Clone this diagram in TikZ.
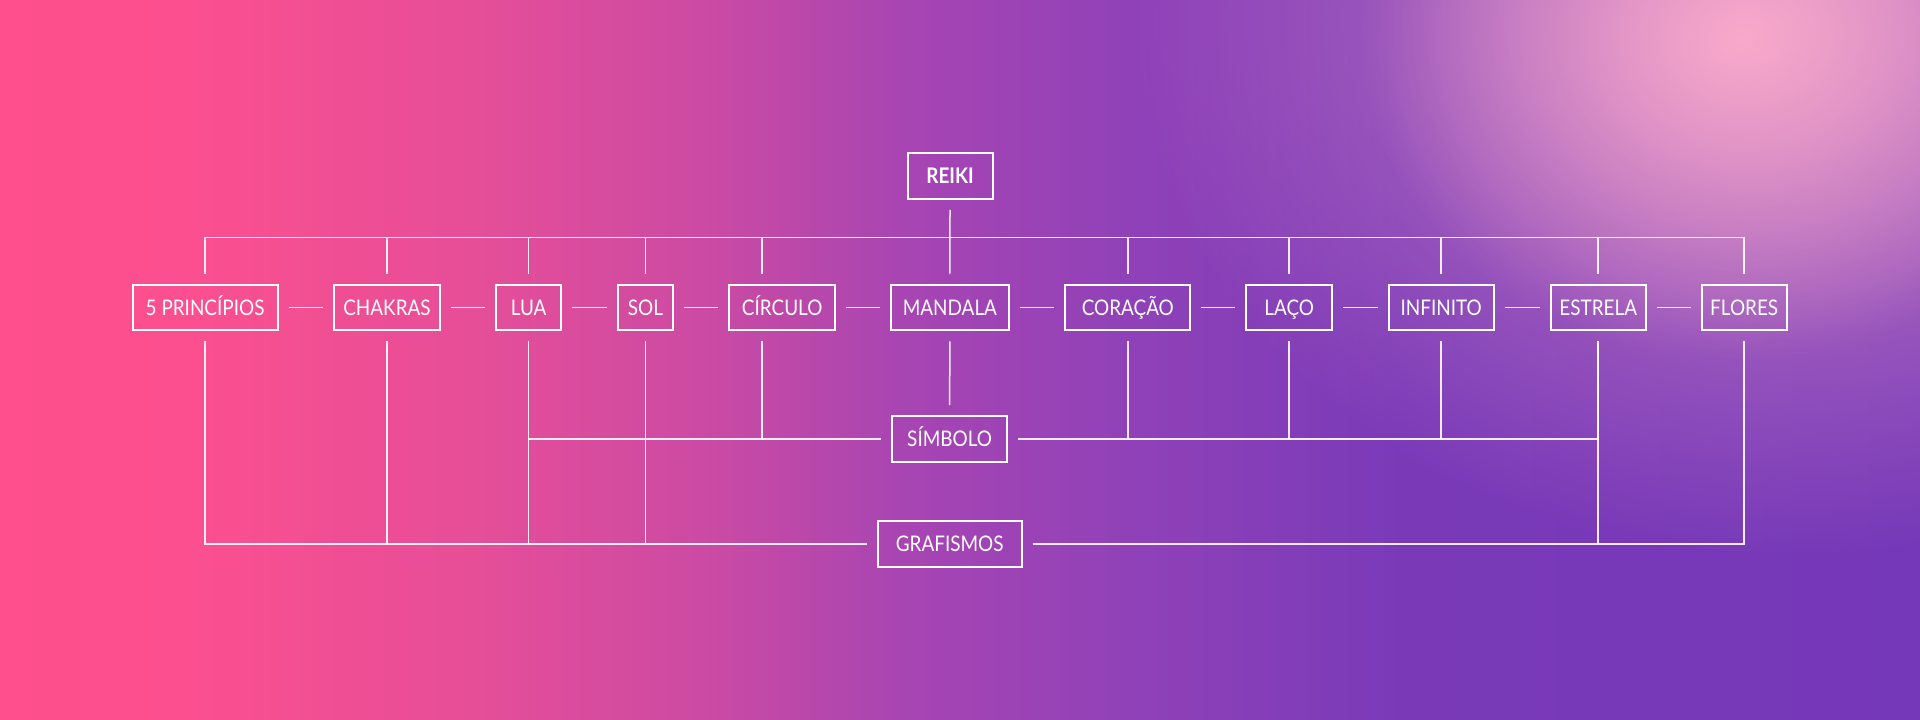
\documentclass[tikz,border=0pt]{standalone}
\usepackage{fontspec}
\setmainfont{Lato}[FakeStretch=0.88]
\usetikzlibrary{fadings}
\definecolor{bgA}{HTML}{FF4F8C}
\definecolor{bgB}{HTML}{FC4F8F}
\definecolor{bgC}{HTML}{E54E98}
\definecolor{bgD}{HTML}{C94AA4}
\definecolor{bgE}{HTML}{A845B3}
\definecolor{bgF}{HTML}{8E41B8}
\definecolor{bgG}{HTML}{7A3AB8}
\definecolor{bgH}{HTML}{7538B8}
\definecolor{glowc}{HTML}{FFAECB}
\tikzfading[name=glowfade, inner color=transparent!0, outer color=transparent!100]
\begin{document}
\begin{tikzpicture}[x=1pt,y=-1pt,
  box/.style={draw=white, line width=2pt, text=white, minimum height=45.6pt,
    inner sep=0pt, text height=15.4pt, text depth=0pt,
    font=\fontsize{21.5}{24}\selectfont},
  link/.style={draw=white, draw opacity=0.9, line width=1.5pt}]
\useasboundingbox (0,0) rectangle (1920,720);
\begin{scope}
\clip (0,0) rectangle (1920,720);
\shade[left color=bgA, right color=bgB] (0,0) rectangle (181,720);
\shade[left color=bgB, right color=bgC] (180,0) rectangle (481,720);
\shade[left color=bgC, right color=bgD] (480,0) rectangle (721,720);
\shade[left color=bgD, right color=bgE] (720,0) rectangle (901,720);
\shade[left color=bgE, right color=bgF] (900,0) rectangle (1151,720);
\shade[left color=bgF, right color=bgG] (1150,0) rectangle (1401,720);
\shade[left color=bgG, right color=bgH] (1400,0) rectangle (1920,720);
\fill[glowc, fill opacity=0.6, path fading=glowfade] (1790,20) ellipse [x radius=660pt, y radius=540pt];
\fill[glowc, fill opacity=0.9, path fading=glowfade] (1740,40) ellipse [x radius=380pt, y radius=320pt];
\end{scope}

% nodes
\node[box, minimum width=85pt, font=\fontsize{21.5}{24}\selectfont\bfseries] (reiki) at (950,176) {REIKI};
\node[box, minimum width=145.2pt] (p5) at (205.1,307.5) {5 PRINCÍPIOS};
\node[box, minimum width=105.4pt] (chakras) at (387,307.5) {CHAKRAS};
\node[box, minimum width=65.5pt] (lua) at (528.7,307.5) {LUA};
\node[box, minimum width=55.2pt] (sol) at (645.4,307.5) {SOL};
\node[box, minimum width=105.5pt] (circulo) at (782.2,307.5) {CÍRCULO};
\node[box, minimum width=117.3pt] (mandala) at (949.9,307.5) {MANDALA};
\node[box, minimum width=125pt] (coracao) at (1127.8,307.5) {CORAÇÃO};
\node[box, minimum width=85.5pt] (laco) at (1289.2,307.5) {LAÇO};
\node[box, minimum width=105.3pt] (infinito) at (1441.2,307.5) {INFINITO};
\node[box, minimum width=95.1pt] (estrela) at (1598.2,307.5) {ESTRELA};
\node[box, minimum width=84.8pt] (flores) at (1744.2,307.5) {FLORES};
\node[box, minimum width=115.2pt] (simbolo) at (949.6,439) {SÍMBOLO};
\node[box, minimum width=144pt] (grafismos) at (949.7,543.8) {GRAFISMOS};
\coordinate (bar) at (950,237.7);

% top tree
\draw[link] ([yshift=-10pt]reiki.south) -- ([yshift=10pt]mandala.north);
\draw[link] ([yshift=10pt]p5.north) |- (bar) -| ([yshift=10pt]flores.north);
\foreach \n in {chakras,lua,sol,coracao,laco,infinito,estrela}
  \draw[link] ([yshift=10pt]\n.north) -- (\n.north |- bar);
\draw[link] ([xshift=-20.2pt,yshift=10pt]circulo.north) -- ([xshift=-20.2pt]circulo.north |- bar);

% row dashes
\foreach \a/\b in {p5/chakras,chakras/lua,lua/sol,sol/circulo,circulo/mandala,mandala/coracao,coracao/laco,laco/infinito,infinito/estrela,estrela/flores}
  \draw[link] ([xshift=10pt]\a.east) -- ([xshift=-10pt]\b.west);

% simbolo
\draw[link] (lua.south |- simbolo) -- ([xshift=-10pt]simbolo.west);
\draw[link] ([xshift=10pt]simbolo.east) -| ([yshift=-10pt]estrela.south);
\draw[link] ([yshift=-10pt]mandala.south) -- ([yshift=10pt]simbolo.north);
\draw[link] ([xshift=-20.2pt,yshift=-10pt]circulo.south) -- ([xshift=-20.2pt]circulo.south |- simbolo);
\foreach \n in {coracao,laco,infinito}
  \draw[link] ([yshift=-10pt]\n.south) -- (\n.south |- simbolo);

% grafismos
\draw[link] ([yshift=-10pt]p5.south) |- ([xshift=-10pt]grafismos.west);
\draw[link] ([xshift=10pt]grafismos.east) -| ([yshift=-10pt]flores.south);
\foreach \n in {chakras,lua,sol,estrela}
  \draw[link] ([yshift=-10pt]\n.south) -- (\n.south |- grafismos);
\end{tikzpicture}
\end{document}
